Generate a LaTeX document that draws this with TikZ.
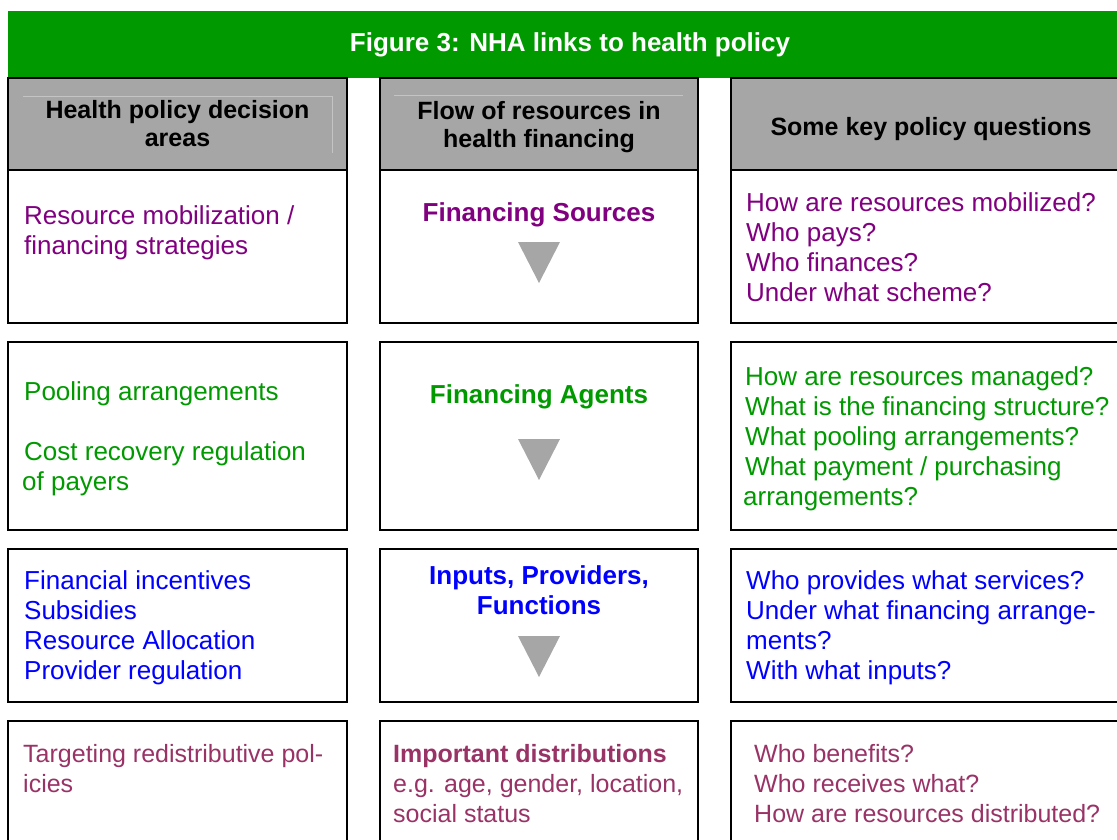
\documentclass[tikz,border=0pt]{standalone}
\usepackage{fontspec}
\setmainfont{Liberation Sans}
\definecolor{bannergreen}{HTML}{009900}
\definecolor{hdrgray}{HTML}{A6A6A6}
\definecolor{hdrline}{HTML}{C4C4C4}
\definecolor{srcpurple}{HTML}{800080}
\definecolor{agentgreen}{HTML}{009900}
\definecolor{provblue}{HTML}{0000FF}
\definecolor{distplum}{HTML}{993366}
\begin{document}
\begin{tikzpicture}[x=1pt,y=-1pt,
  cell/.style={draw=black,line width=2pt,inner sep=0pt,outer sep=0pt,anchor=north west},
  hdrcell/.style={cell,fill=hdrgray},
  hdrtext/.style={inner sep=0pt,anchor=north,align=center,
    font=\bfseries\fontsize{25}{28}\selectfont,execute at begin node=\strut},
  bodytext/.style={inner sep=0pt,anchor=north west,align=left,
    font=\fontsize{26}{30}\selectfont,execute at begin node=\strut},
  disttext/.style={bodytext,font=\fontsize{25}{30}\selectfont},
  flowtext/.style={inner sep=0pt,anchor=north,align=center,
    font=\bfseries\fontsize{26}{30}\selectfont,execute at begin node=\strut},
  flowtip/.style={fill=hdrgray,draw=none}
]
\useasboundingbox (0,0) rectangle (1117,840);
\clip (0,0) rectangle (1117,840);

% title banner
\node[fill=bannergreen,inner sep=0pt,outer sep=0pt,anchor=north west,
  minimum width=1130pt,minimum height=67pt] (banner) at (8,11) {};
\node[inner sep=0pt,anchor=north,text=white,
  font=\bfseries\fontsize{26}{30}\selectfont,execute at begin node=\strut]
  (title) at (570,30) {Figure 3: NHA links to health policy};

% column headers
\node[hdrcell,minimum width=339pt,minimum height=92pt] (h1) at (8,78) {};
\node[hdrcell,minimum width=318pt,minimum height=92pt] (h2) at (380,78) {};
\node[hdrcell,minimum width=410pt,minimum height=92pt] (h3) at (731,78) {};
\draw[hdrline,line width=0.7pt] (23,96) -- (332,96) -- (332,153);
\draw[hdrline,line width=0.7pt] (394,95) -- (683,95);
\node[hdrtext] (h1t) at (177.5,100.4) {Health policy decision\\areas};
\node[hdrtext] (h2t) at (539,101.4) {Flow of resources in\\health financing};
\node[hdrtext] (h3t) at (931,115.4) {Some key policy questions};

% row 1: financing sources
\node[cell,minimum width=339pt,minimum height=153pt] (a1) at (8,170) {};
\node[cell,minimum width=318pt,minimum height=153pt] (b1) at (380,170) {};
\node[cell,minimum width=410pt,minimum height=153pt] (c1) at (731,170) {};
\node[bodytext,text=srcpurple] (a1t) at (24,205) {Resource mobilization /\\financing strategies};
\node[flowtext,text=srcpurple] (b1t) at (539,200) {Financing Sources};
\node[bodytext,text=srcpurple] (c1t) at (746,192)
  {How are resources mobilized?\\Who pays?\\Who finances?\\Under what scheme?};
\fill[flowtip] (518,242) -- (560,242) -- (539,283) -- cycle;

% row 2: financing agents
\node[cell,minimum width=339pt,minimum height=188pt] (a2) at (8,342) {};
\node[cell,minimum width=318pt,minimum height=188pt] (b2) at (380,342) {};
\node[cell,minimum width=410pt,minimum height=188pt] (c2) at (731,342) {};
\node[bodytext,text=agentgreen] (a2t) at (24,381)
  {Pooling arrangements\\[30pt]Cost recovery regulation\\\hspace*{-2pt}of payers};
\node[flowtext,text=agentgreen] (b2t) at (539,382) {Financing Agents};
\node[bodytext,text=agentgreen] (c2t) at (745,366)
  {How are resources managed?\\What is the financing structure?\\What pooling arrangements?\\What payment / purchasing\\\hspace*{-2pt}arrangements?};
\fill[flowtip] (518,439) -- (560,439) -- (539,480) -- cycle;

% row 3: inputs, providers, functions
\node[cell,minimum width=339pt,minimum height=153pt] (a3) at (8,549) {};
\node[cell,minimum width=318pt,minimum height=153pt] (b3) at (380,549) {};
\node[cell,minimum width=410pt,minimum height=153pt] (c3) at (731,549) {};
\node[bodytext,text=provblue] (a3t) at (24,570)
  {Financial incentives\\Subsidies\\Resource Allocation\\Provider regulation};
\node[flowtext,text=provblue] (b3t) at (539,565) {Inputs, Providers,\\Functions};
\node[bodytext,text=provblue] (c3t) at (746,570)
  {Who provides what services?\\Under what financing arrange-\\ments?\\With what inputs?};
\fill[flowtip] (518,636) -- (560,636) -- (539,677) -- cycle;

% row 4: distributions
\node[cell,minimum width=339pt,minimum height=150pt] (a4) at (8,721) {};
\node[cell,minimum width=318pt,minimum height=150pt] (b4) at (380,721) {};
\node[cell,minimum width=410pt,minimum height=150pt] (c4) at (731,721) {};
\node[disttext,text=distplum] (a4t) at (23,744) {Targeting redistributive pol-\\icies};
\node[disttext,text=distplum] (b4t) at (393,744)
  {\textbf{Important distributions}\\e.g. age, gender, location,\\social status};
\node[disttext,text=distplum] (c4t) at (754,744)
  {Who benefits?\\Who receives what?\\How are resources distributed?};
\end{tikzpicture}
\end{document}
